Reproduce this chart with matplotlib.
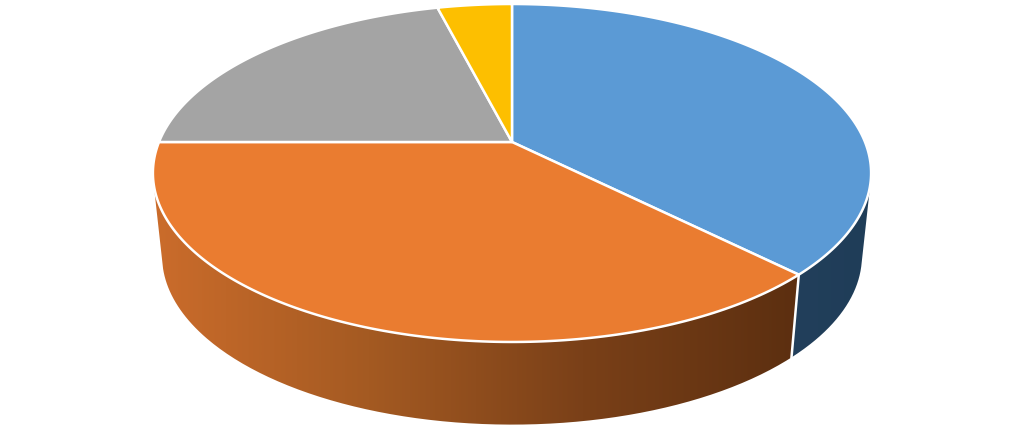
import numpy as np
import matplotlib
matplotlib.use('Agg')
import matplotlib.pyplot as plt
from matplotlib.patches import PathPatch, Polygon
from matplotlib.path import Path
from matplotlib.colors import LinearSegmentedColormap

labels = ['Blue', 'Orange', 'Gray', 'Yellow']
values = [37.5, 37.5, 21, 4]
top_colors = ['#5b9ad5', '#ea7c30', '#a4a4a4', '#fdbf00']
orange_wall = ['#cb6c2b', '#a45a22', '#7a4018', '#5c2f10']
blue_wall = ['#223f5b', '#1f3d58']

cx = 512


def project(theta, yc, r, a, k=0.1834):
    # circle seen in perspective, theta clockwise from the top
    u = np.sin(theta)
    v = np.cos(theta)
    return np.column_stack((cx + r * u / (1 + k * v), yc - a * v / (1 + k * v)))


def top_rim(theta):
    return project(theta, 143, 353, 163.3)


def low_rim(theta):
    return project(theta, 226, 344, 163)


def wall(ax, start, stop, cmap):
    t = np.linspace(start, stop, 200)
    pts = np.vstack((top_rim(t), low_rim(t)[::-1]))
    xs = pts[:, 0]
    grad = np.linspace(0, 1, 256).reshape(1, -1)
    im = ax.imshow(grad, cmap=cmap, aspect='auto', zorder=1,
                   extent=(xs.min(), xs.max(), 435, 0))
    clip = PathPatch(Path(np.vstack((pts, pts[:1]))), transform=ax.transData, fc='none', ec='none')
    ax.add_patch(clip)
    im.set_clip_path(clip)


fig = plt.figure(figsize=(10.24, 4.35), dpi=100)
ax = fig.add_axes([0, 0, 1, 1])

edges = 2 * np.pi * np.cumsum([0] + values) / sum(values)

# side walls, only the two front slices show one
wall(ax, edges[1], np.radians(257), LinearSegmentedColormap.from_list('o', orange_wall))
wall(ax, np.radians(103), edges[1], LinearSegmentedColormap.from_list('b', blue_wall))

# divider between the walls
p0 = top_rim(np.array([edges[1]]))[0]
p1 = low_rim(np.array([edges[1]]))[0]
ax.plot([p0[0], p1[0]], [p0[1], p1[1]], color='white', lw=1.8, zorder=2)

# top face
for i in range(len(values)):
    t = np.linspace(edges[i], edges[i + 1], 150)
    pts = np.vstack(([[cx, 143]], top_rim(t)))
    ax.add_patch(Polygon(pts, closed=True, fc=top_colors[i], ec='white', lw=1.8, joinstyle='round', zorder=3))

ax.set_xlim(0, 1024)
ax.set_ylim(435, 0)
ax.axis('off')
fig.savefig('out.png', dpi=100, facecolor='white')
